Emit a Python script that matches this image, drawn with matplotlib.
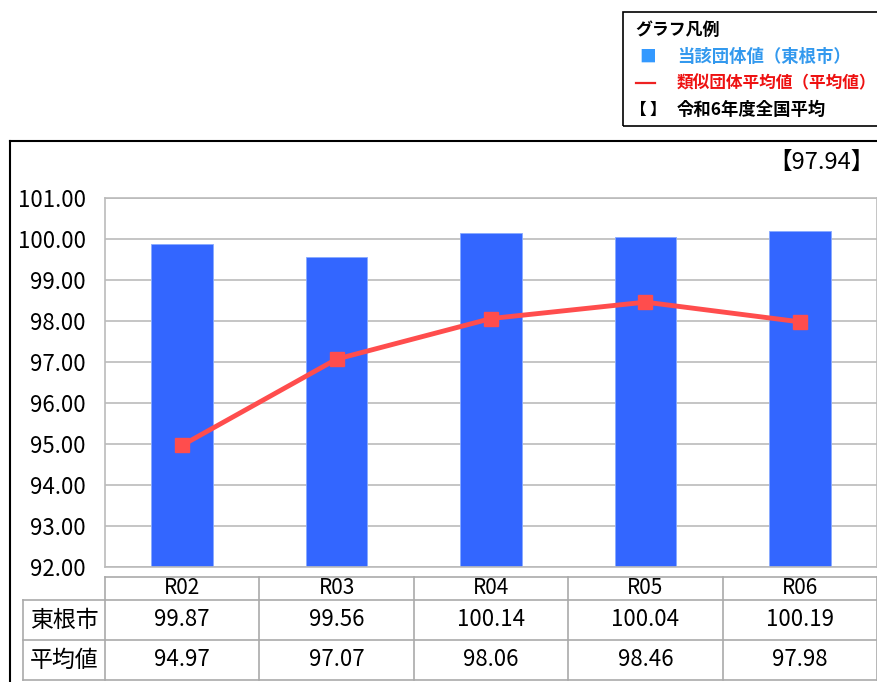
import matplotlib
matplotlib.use("Agg")
import matplotlib.pyplot as plt
from matplotlib.patches import Rectangle
from matplotlib.lines import Line2D

plt.rcParams['font.family'] = ['Noto Sans CJK JP', 'DejaVu Sans']

# data
years = ["R02", "R03", "R04", "R05", "R06"]
city_vals = [99.87, 99.56, 100.14, 100.04, 100.19]
avg_vals = [94.97, 97.07, 98.06, 98.46, 97.98]
row_labels = ["東根市", "平均値"]
national_avg = 97.94
yticks = [92, 93, 94, 95, 96, 97, 98, 99, 100, 101]

W, H = 877, 682
fig = plt.figure(figsize=(W / 100, H / 100), dpi=100)

def fx(px):
    return px / W

def fy(py):
    return 1 - py / H

num_font = ['Noto Sans CJK JP', 'DejaVu Sans']
bar_col = '#3366FF'
line_col = '#FF4D4D'
grid_col = '#BBBBBB'

# main plot
ax = fig.add_axes([fx(105), fy(567), fx(877 - 105), (567 - 198) / H])
xs = list(range(len(years)))
ax.bar(xs, [v - 92 for v in city_vals], bottom=92, width=0.4, color=bar_col,
       edgecolor='#88AAFF', linewidth=0.6, zorder=2)
ax.plot(xs, avg_vals, color=line_col, linewidth=3.5, marker='s', markersize=10, zorder=3)
ax.set_xlim(-0.5, 4.5)
ax.set_ylim(92, 101)
ax.set_yticks(yticks)
ax.set_yticklabels(["%.2f" % t for t in yticks], family=num_font, fontsize=16)
ax.set_xticks([])
ax.tick_params(axis='y', length=0, pad=14)
ax.grid(axis='y', color=grid_col, linewidth=1.2, zorder=0)
for s in ax.spines.values():
    s.set_color(grid_col)
    s.set_linewidth(1.2)

# data table under the plot
tax = fig.add_axes([fx(23), fy(680), fx(877 - 23), 103 / H])
left = -0.5 - 82 / 154.4
tax.set_xlim(left, 4.5)
tax.set_ylim(103, 0)
tax.axis('off')
tcol = '#AAAAAA'
rows = [(0, 23), (23, 63), (63, 103)]
tax.plot([-0.5, 4.5], [0, 0], color=tcol, lw=1.2, clip_on=False)
for y0, y1 in rows[1:]:
    tax.plot([left, 4.5], [y0, y0], color=tcol, lw=1.2, clip_on=False)
tax.plot([left, 4.5], [103, 103], color=tcol, lw=1.2, clip_on=False)
tax.plot([left, left], [23, 103], color=tcol, lw=1.2, clip_on=False)
for i in range(6):
    tax.plot([i - 0.5, i - 0.5], [0, 103], color=tcol, lw=1.2, clip_on=False)

for i, yr in enumerate(years):
    tax.text(i, 11.5, yr, ha='center', va='center', family=num_font, fontsize=15)
    tax.text(i, 43, "%.2f" % city_vals[i], ha='center', va='center', family=num_font, fontsize=16)
    tax.text(i, 83, "%.2f" % avg_vals[i], ha='center', va='center', family=num_font, fontsize=16)
for (y0, y1), lab in zip(rows[1:], row_labels):
    tax.text((left - 0.5) / 2, (y0 + y1) / 2, lab, ha='center', va='center', fontsize=16.5)

# outer frame
fig.add_artist(Line2D([fx(10), fx(877)], [fy(141), fy(141)], color='black', lw=1.5))
fig.add_artist(Line2D([fx(10), fx(10)], [fy(141), fy(682)], color='black', lw=1.5))

fig.text(fx(875), fy(162), "【%.2f】" % national_avg, ha='right', va='center',
         family=num_font, fontsize=17)

# legend box
fig.add_artist(Rectangle((fx(623), fy(126)), fx(300), 114 / H, transform=fig.transFigure,
                         fill=False, edgecolor='black', lw=1.2))
fig.text(fx(635), fy(30), "グラフ凡例", ha='left', va='center', fontsize=12.2, weight='bold')
fig.text(fx(639), fy(57), "■", ha='left', va='center', fontsize=12, color='#3399FF')
fig.text(fx(677), fy(57), "当該団体値（東根市）", ha='left', va='center', fontsize=12.5,
         weight='bold', color='#3399EE')
fig.add_artist(Line2D([fx(636), fx(655)], [fy(83), fy(83)], color='#EE2222', lw=1.6))
fig.text(fx(677), fy(83), "類似団体平均値（平均値）", ha='left', va='center', fontsize=12,
         weight='bold', color='#EE1111')
fig.text(fx(630), fy(110), "【", ha='left', va='center', fontsize=12, weight='bold')
fig.text(fx(650), fy(110), "】", ha='left', va='center', fontsize=12, weight='bold')
fig.text(fx(677), fy(110), "令和6年度全国平均", ha='left', va='center', fontsize=12.5,
         weight='bold')

fig.savefig("out.png", dpi=100)
